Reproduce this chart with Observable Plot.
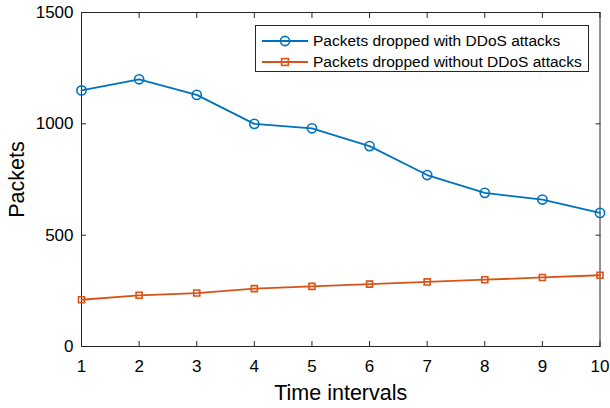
<!DOCTYPE html>
<html>
<head>
<meta charset="utf-8">
<script src="https://cdn.jsdelivr.net/npm/d3@7"></script>
<script src="https://cdn.jsdelivr.net/npm/@observablehq/plot@0.6"></script>
<style>
  html, body { margin: 0; padding: 0; background: #fff; }
  #chart { position: relative; width: 610px; height: 408px; font-family: "Liberation Sans", Arial, Helvetica, sans-serif; }
  #chart svg { display: block; }
  .legend { position: absolute; left: 255px; top: 25px; width: 332px; height: 45px; border: 1px solid #262626; background: #fff; box-sizing: content-box; }
  .legend .row { position: absolute; left: 0; height: 20px; display: flex; align-items: center; }
  .legend .row span { font-size: 15.5px; color: #000; margin-left: 5px; white-space: nowrap; }
  .legend svg { display: block; }
</style>
</head>
<body>
<div id="chart"></div>
<script>
// Time intervals on the horizontal axis
const intervals = [1, 2, 3, 4, 5, 6, 7, 8, 9, 10];
// Dropped packets per interval
const withDDoS = [1150, 1200, 1130, 1000, 980, 900, 770, 690, 660, 600];
const withoutDDoS = [210, 230, 240, 260, 270, 280, 290, 300, 310, 320];
// Axis ticks
const xTicks = [1, 2, 3, 4, 5, 6, 7, 8, 9, 10];
const yTicks = [0, 500, 1000, 1500];
// Series names and colours
const seriesNames = ["Packets dropped with DDoS attacks", "Packets dropped without DDoS attacks"];
const seriesColors = ["#0072BD", "#D95319"];

const rowsWith = intervals.map((t, i) => ({t, v: withDDoS[i]}));
const rowsWithout = intervals.map((t, i) => ({t, v: withoutDDoS[i]}));

const axisColor = "#262626";
const tickFont = {fontSize: 17};
const plain = (d) => String(d);
const lw = 1.8;

const plot = Plot.plot({
  width: 610,
  height: 408,
  marginLeft: 81,
  marginRight: 10.5,
  marginTop: 12,
  marginBottom: 62,
  style: {fontFamily: '"Liberation Sans", Arial, Helvetica, sans-serif', background: "#fff", color: "#000"},
  x: {domain: [1, 10]},
  y: {domain: [0, 1500]},
  marks: [
    // tick labels
    Plot.axisX(xTicks, {anchor: "bottom", tickSize: 0, tickPadding: 13, tickFormat: plain, label: null, ...tickFont, fill: "#000"}),
    Plot.axisY(yTicks, {anchor: "left", tickSize: 0, tickPadding: 8, tickFormat: plain, label: null, ...tickFont, fill: "#000"}),
    // inward ticks on all four sides
    Plot.axisX(xTicks, {anchor: "bottom", tickSize: 5, dy: -5, tickFormat: () => "", label: null, stroke: axisColor}),
    Plot.axisX(xTicks, {anchor: "top", tickSize: 5, dy: 5, tickFormat: () => "", label: null, stroke: axisColor}),
    Plot.axisY(yTicks, {anchor: "left", tickSize: 5, dx: 5, tickFormat: () => "", label: null, stroke: axisColor}),
    Plot.axisY(yTicks, {anchor: "right", tickSize: 5, dx: -5, tickFormat: () => "", label: null, stroke: axisColor}),
    Plot.frame({stroke: axisColor, strokeWidth: 1}),
    // axis titles
    Plot.text(["Time intervals"], {frameAnchor: "bottom", dy: 53, fontSize: 21.5, fill: "#000", textAnchor: "middle"}),
    Plot.text(["Packets"], {frameAnchor: "left", dx: -64, rotate: -90, fontSize: 21.5, fill: "#000", textAnchor: "middle"}),
    // series
    Plot.line(rowsWith, {x: "t", y: "v", stroke: seriesColors[0], strokeWidth: lw}),
    Plot.dot(rowsWith, {x: "t", y: "v", r: 4.6, stroke: seriesColors[0], strokeWidth: 1.6, fill: "none"}),
    Plot.line(rowsWithout, {x: "t", y: "v", stroke: seriesColors[1], strokeWidth: lw}),
    Plot.dot(rowsWithout, {x: "t", y: "v", symbol: "square", r: 3.4, stroke: seriesColors[1], strokeWidth: 1.6, fill: "none"})
  ]
});

const chart = document.getElementById("chart");
chart.appendChild(plot);

// Legend box
const legend = document.createElement("div");
legend.className = "legend";
const rowTops = [5, 26];
seriesNames.forEach((name, i) => {
  const row = document.createElement("div");
  row.className = "row";
  row.style.top = rowTops[i] + "px";
  const sw = d3.create("svg").attr("width", 52).attr("height", 20);
  sw.append("line").attr("x1", 6).attr("x2", 52).attr("y1", 10).attr("y2", 10)
    .attr("stroke", seriesColors[i]).attr("stroke-width", lw);
  if (i === 0) {
    sw.append("circle").attr("cx", 29).attr("cy", 10).attr("r", 4.6)
      .attr("fill", "none").attr("stroke", seriesColors[i]).attr("stroke-width", 1.6);
  } else {
    sw.append("rect").attr("x", 25.6).attr("y", 6.6).attr("width", 6.8).attr("height", 6.8)
      .attr("fill", "none").attr("stroke", seriesColors[i]).attr("stroke-width", 1.6);
  }
  row.appendChild(sw.node());
  const label = document.createElement("span");
  label.textContent = name;
  row.appendChild(label);
  legend.appendChild(row);
});
chart.appendChild(legend);
</script>
</body>
</html>
